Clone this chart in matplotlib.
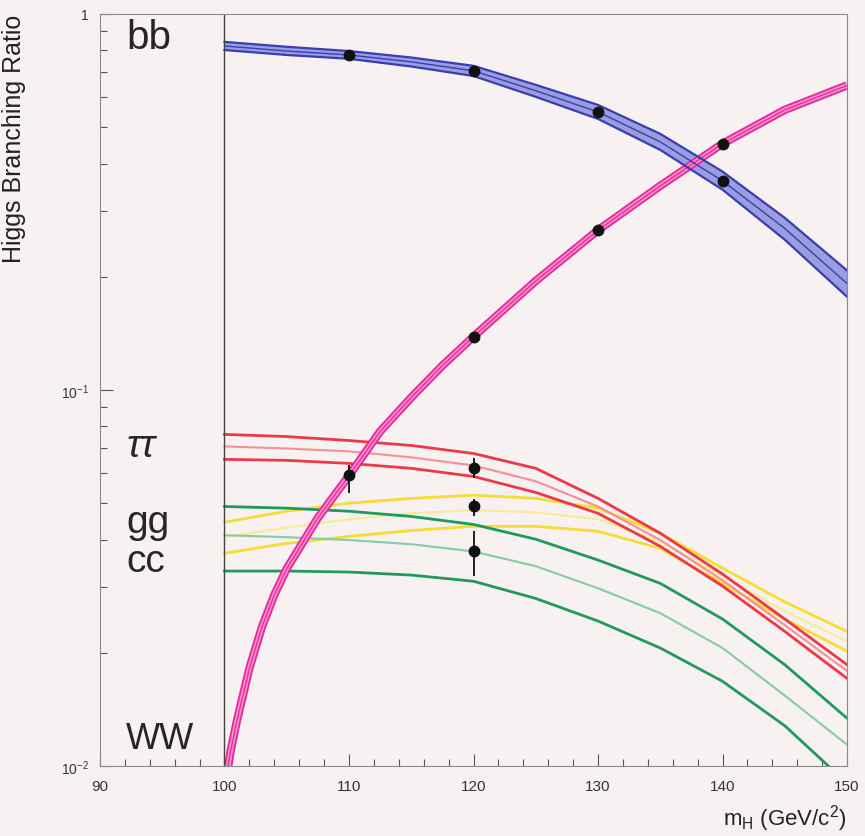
import numpy as np
import matplotlib
matplotlib.use('Agg')
import matplotlib.pyplot as plt
from matplotlib.ticker import MultipleLocator, LogLocator, NullFormatter

plt.rcParams['font.family'] = ['Liberation Sans', 'DejaVu Sans']
plt.rcParams['mathtext.fontset'] = 'custom'
plt.rcParams['mathtext.rm'] = 'Liberation Sans'
plt.rcParams['mathtext.it'] = 'Liberation Sans:italic'

# Higgs mass grid (GeV/c^2) for the bands
mh = [100, 105, 110, 115, 120, 125, 130, 135, 140, 145, 150]

# bb band (upper, central, lower)
bb_hi = [0.843, 0.818, 0.797, 0.766, 0.728, 0.648, 0.573, 0.480, 0.381, 0.287, 0.208]
bb_mid = [0.822, 0.797, 0.778, 0.746, 0.706, 0.625, 0.549, 0.457, 0.360, 0.269, 0.192]
bb_lo = [0.802, 0.778, 0.760, 0.725, 0.684, 0.602, 0.526, 0.435, 0.341, 0.251, 0.177]

# tau tau band
tt_hi = [0.0762, 0.0752, 0.0734, 0.0712, 0.0678, 0.0619, 0.0515, 0.0416, 0.0324, 0.0246, 0.0186]
tt_mid = [0.0708, 0.0699, 0.0687, 0.0662, 0.0630, 0.0572, 0.0490, 0.0399, 0.0312, 0.0237, 0.0179]
tt_lo = [0.0654, 0.0650, 0.0638, 0.0619, 0.0589, 0.0534, 0.0470, 0.0384, 0.0301, 0.0228, 0.0171]

# gg band
gg_hi = [0.0445, 0.0476, 0.0500, 0.0515, 0.0525, 0.0515, 0.0485, 0.0416, 0.0336, 0.0273, 0.0228]
gg_mid = [0.0406, 0.0431, 0.0453, 0.0470, 0.0479, 0.0473, 0.0453, 0.0396, 0.0320, 0.0258, 0.0215]
gg_lo = [0.0368, 0.0391, 0.0408, 0.0423, 0.0434, 0.0434, 0.0421, 0.0379, 0.0306, 0.0246, 0.0202]

# cc band
cc_hi = [0.0490, 0.0485, 0.0476, 0.0461, 0.0439, 0.0401, 0.0353, 0.0306, 0.0246, 0.0186, 0.0134]
cc_mid = [0.0411, 0.0406, 0.0399, 0.0389, 0.0372, 0.0340, 0.0297, 0.0255, 0.0206, 0.0154, 0.0114]
cc_lo = [0.0330, 0.0330, 0.0328, 0.0322, 0.0310, 0.0279, 0.0243, 0.0206, 0.0168, 0.0128, 0.0090]

# WW curve (finer grid near threshold)
mh_ww = [100.3, 100.5, 101, 101.5, 102, 103, 104, 105, 107.5, 110, 112.5, 115,
         117.5, 120, 125, 130, 135, 140, 145, 150]
ww = [0.0100, 0.0110, 0.0132, 0.0155, 0.0182, 0.0234, 0.0285, 0.0335, 0.0457,
      0.0592, 0.0776, 0.0955, 0.1161, 0.1387, 0.1950, 0.2661, 0.3491, 0.4519,
      0.5559, 0.6457]

# measured points
pts_mh = [110, 120, 130, 140]
pts_bb = [0.778, 0.706, 0.549, 0.360]
pts_ww = [0.0593, 0.1387, 0.2661, 0.452]
pts_ww_err_lo = [0.0061, 0.0, 0.0, 0.0]
pts_ww_err_hi = [0.0037, 0.0, 0.0, 0.0]

pt120_mh = [120, 120, 120]
pt120_val = [0.0622, 0.0490, 0.0373]
pt120_lo = [0.0582, 0.0463, 0.0320]
pt120_hi = [0.0661, 0.0513, 0.0421]

bg = '#f8f1f1'
fig = plt.figure(figsize=(8.65, 8.37), dpi=100)
fig.patch.set_facecolor(bg)
ax = fig.add_axes([0.1156, 0.0836, 0.8636, 0.8985])
ax.set_facecolor(bg)
ax.set_yscale('log')
ax.set_xlim(90, 150)
ax.set_ylim(0.01, 1)

# yellow (gg)
ax.plot(mh, gg_hi, color='#f5dd35', lw=2.0)
ax.plot(mh, gg_lo, color='#f5dd35', lw=2.0)
ax.plot(mh, gg_mid, color='#f7eb95', lw=1.5)
# green (cc)
ax.plot(mh, cc_hi, color='#1f9a5c', lw=2.0)
ax.plot(mh, cc_lo, color='#1f9a5c', lw=2.0)
ax.plot(mh, cc_mid, color='#86cca3', lw=1.5)
# red (tau tau)
ax.plot(mh, tt_hi, color='#ee3848', lw=2.0)
ax.plot(mh, tt_lo, color='#ee3848', lw=2.0)
ax.plot(mh, tt_mid, color='#f49096', lw=1.5)

# WW band
ax.plot(mh_ww, ww, color='#e8279a', lw=6.0, solid_capstyle='butt')
ax.plot(mh_ww, ww, color='#f590cc', lw=3.4, solid_capstyle='butt')
ax.plot(mh_ww, ww, color='#e8279a', lw=0.9)

# bb band
ax.fill_between(mh, bb_lo, bb_hi, color='#9a9de0', lw=0)
ax.plot(mh, bb_hi, color='#3a3eae', lw=1.6)
ax.plot(mh, bb_lo, color='#3a3eae', lw=1.6)
ax.plot(mh, bb_mid, color='#3a3eae', lw=1.0)

# points
ax.plot(pts_mh, pts_bb, 'o', color='#111111', ms=7.5, zorder=6)
ax.errorbar(pts_mh, pts_ww, yerr=[pts_ww_err_lo, pts_ww_err_hi], fmt='o',
            color='#111111', ms=7.5, elinewidth=1.3, capsize=0, zorder=6)
err = [np.array(pt120_val) - np.array(pt120_lo), np.array(pt120_hi) - np.array(pt120_val)]
ax.errorbar(pt120_mh, pt120_val, yerr=err, fmt='o', color='#111111', ms=7.5,
            elinewidth=1.3, capsize=0, zorder=6)

ax.axvline(100, color='#444444', lw=1.0)

# channel labels
lab_col = '#262626'
ax.text(92.1, 0.869, 'bb', fontsize=29, color=lab_col, va='center', ha='left')
ax.text(92.1, 0.0710, 'ττ', fontsize=28, style='italic', color=lab_col, va='center', ha='left')
ax.text(92.1, 0.0446, 'gg', fontsize=28, color=lab_col, va='center', ha='left')
ax.text(92.1, 0.0351, 'cc', fontsize=28, color=lab_col, va='center', ha='left')
ax.text(92.1, 0.0118, 'WW', fontsize=26, color=lab_col, va='center', ha='left')

# axes styling
for s in ax.spines.values():
    s.set_color('#8a8a8a')
    s.set_linewidth(0.8)
ax.set_xticks([90, 100, 110, 120, 130, 140, 150])
ax.xaxis.set_minor_locator(MultipleLocator(2))
ax.set_yticks([0.01, 0.1, 1])
ax.set_yticklabels([r'$10^{-2}$', r'$10^{-1}$', '1'])
ax.yaxis.set_minor_locator(LogLocator(base=10, subs=np.arange(2, 10)))
ax.yaxis.set_minor_formatter(NullFormatter())
ax.tick_params(which='both', direction='in', color='#555555', width=0.8,
               labelsize=11, labelcolor='#333333')
ax.tick_params(which='major', length=9)
ax.tick_params(which='minor', length=5)
ax.tick_params(axis='x', pad=9)
ax.tick_params(axis='y', labelsize=10, pad=8)

fig.text(0.016, 0.982, 'Higgs Branching Ratio', rotation=90, ha='center', va='top',
         fontsize=18, color='#222222')
fig.text(0.979, 0.022, r'm$_{\mathrm{H}}$ (GeV/c$^{2}$)', ha='right', va='center',
         fontsize=16, color='#222222')

fig.savefig('out.png', dpi=100, facecolor=bg)
